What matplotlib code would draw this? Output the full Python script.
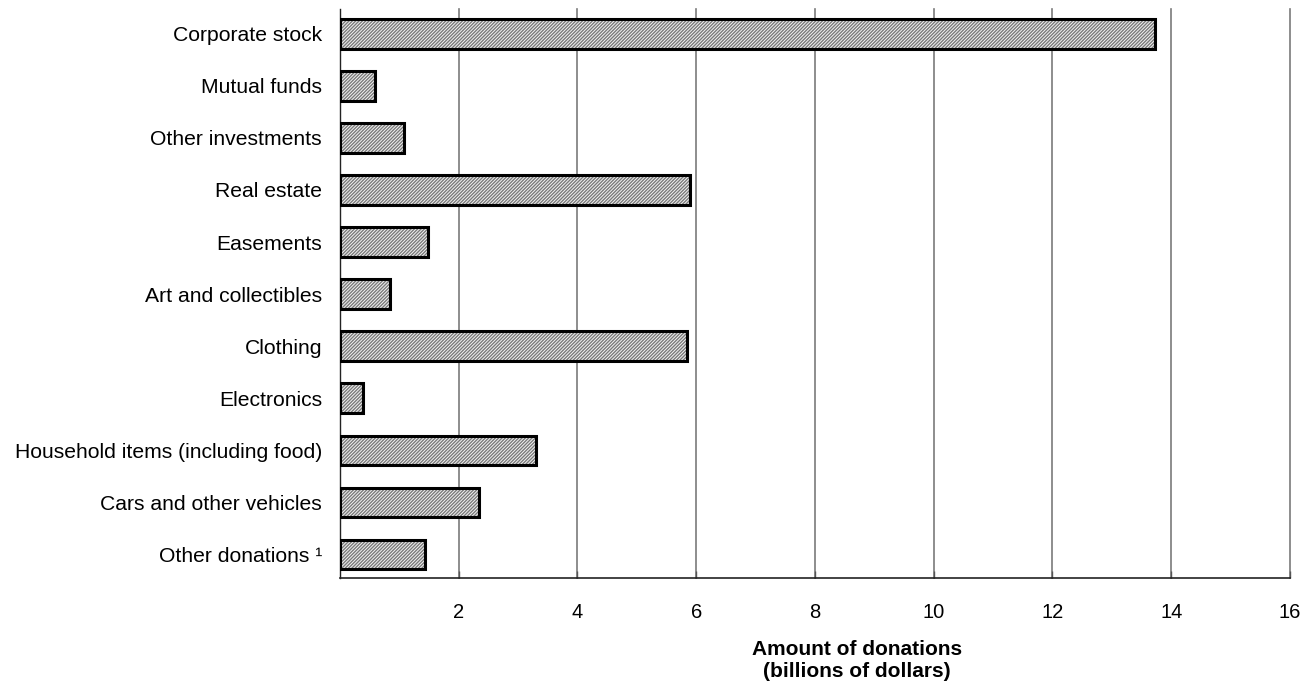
import numpy as np
import matplotlib
matplotlib.use("Agg")
import matplotlib.pyplot as plt

categories = [
    "Corporate stock",
    "Mutual funds",
    "Other investments",
    "Real estate",
    "Easements",
    "Art and collectibles",
    "Clothing",
    "Electronics",
    "Household items (including food)",
    "Cars and other vehicles",
    "Other donations \u00b9",
]
values = [13.73, 0.59, 1.08, 5.90, 1.49, 0.84, 5.84, 0.38, 3.31, 2.35, 1.43]
xticks = [2, 4, 6, 8, 10, 12, 14, 16]

plt.rcParams["font.family"] = ["Liberation Sans", "DejaVu Sans"]
plt.rcParams["hatch.linewidth"] = 1.0

fig = plt.figure(figsize=(13.1, 6.86), dpi=100)
ax = fig.add_axes([0.2595, 0.1574, 0.7252, 0.8295])

y = np.arange(len(categories))
# hatched fill first, then a plain black outline on top
ax.barh(y, values, height=0.56, color="#f4f4f4", edgecolor="#7a7a7a",
        hatch="//////////", linewidth=0, zorder=2)
ax.barh(y, values, height=0.56, fill=False, edgecolor="black",
        linewidth=2.2, zorder=3)

ax.set_xlim(0, 16)
ax.set_ylim(10.46, -0.48)
ax.set_yticks(y)
ax.set_yticklabels(categories, fontsize=15.2)
ax.tick_params(axis="y", length=0, pad=13)
ax.set_xticks(xticks)
ax.set_xticklabels([str(t) for t in xticks], fontsize=14.5)
ax.tick_params(axis="x", direction="in", length=5, width=1, color="#555555", pad=18)

for t in xticks:
    ax.axvline(t, color="#7a7a7a", linewidth=1.2, zorder=1, clip_on=False)

ax.spines["top"].set_visible(False)
ax.spines["right"].set_visible(False)
ax.spines["left"].set_color("#222222")
ax.spines["bottom"].set_color("#222222")
ax.spines["left"].set_linewidth(1)
ax.spines["bottom"].set_linewidth(1.2)

ax.set_xlabel("Amount of donations\n(billions of dollars)", fontsize=15,
              fontweight="bold", labelpad=13, linespacing=1.2, x=0.544)

fig.savefig("out.png", dpi=100)
